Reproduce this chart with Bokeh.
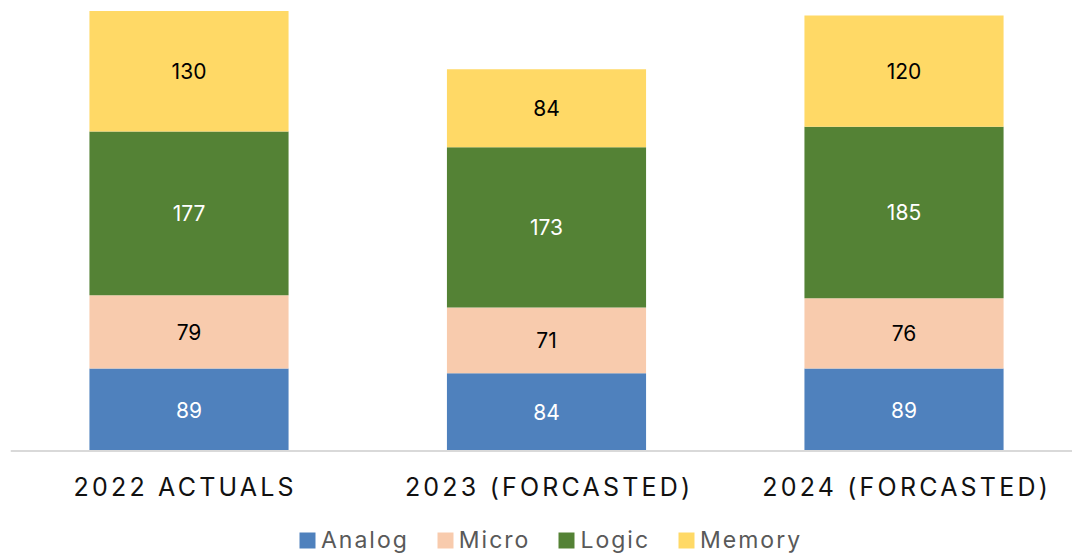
from bokeh.plotting import figure
from bokeh.models import (ColumnDataSource, Range1d, FixedTicker, Span, Legend,
                          LegendItem, InlineStyleSheet)
from bokeh.layouts import column
from bokeh.embed import file_html
from bokeh.resources import INLINE
from bokeh.core.properties import value

categories = ["2022 ACTUALS", "2023 (FORCASTED)", "2024 (FORCASTED)"]
series = ["Analog", "Micro", "Logic", "Memory"]
analog = [89, 84, 89]
micro = [79, 71, 76]
logic = [177, 173, 185]
memory = [130, 84, 120]
colors = ["#4F81BD", "#F8CBAD", "#548235", "#FFD966"]
label_colors = ["#FFFFFF", "#000000", "#FFFFFF", "#000000"]

FONT = "Inter"
W = 1072
x = list(range(len(categories)))
values = [analog, micro, logic, memory]
src = ColumnDataSource(dict(x=x, **{s: v for s, v in zip(series, values)}))

X0, X1 = -0.4993, 2.4713
xr = Range1d(X0, X1)

# ---------- main bars ----------
main = figure(width=W, height=453, x_range=xr, y_range=Range1d(-2.7, 486.3),
              output_backend="svg", toolbar_location=None,
              min_border_left=10, min_border_right=0, min_border_top=0, min_border_bottom=0,
              x_axis_location=None, y_axis_location=None)
main.outline_line_color = None
main.grid.visible = False
main.vbar_stack(series, x="x", width=0.557, color=colors, line_color=None, source=src)

lx, ly, lt, lc = [], [], [], []
bottoms = [0] * len(categories)
for vals, col in zip(values, label_colors):
    for i, v in enumerate(vals):
        lx.append(x[i])
        ly.append(bottoms[i] + v / 2)
        lt.append(str(v))
        lc.append(col)
        bottoms[i] += v
lsrc = ColumnDataSource(dict(x=lx, y=ly, text=lt, color=lc))
main.text(x="x", y="y", text="text", text_color="color", source=lsrc,
          text_align="center", text_baseline="middle",
          text_font=value(FONT), text_font_size="21px")
main.add_layout(Span(location=0, dimension="width", line_color="#D9D9D9", line_width=1.8))

# ---------- category axis ----------
shift = 23 / 357.5
ax = figure(width=W, height=68, x_range=Range1d(X0 + shift, X1 + shift), y_range=Range1d(0, 1),
            output_backend="svg", toolbar_location=None,
            min_border_left=10, min_border_right=0, min_border_top=0, min_border_bottom=67,
            y_axis_location=None)
ax.outline_line_color = None
ax.grid.visible = False
xa = ax.xaxis[0]
xa.ticker = FixedTicker(ticks=x)
xa.major_label_overrides = {i: c for i, c in zip(x, categories)}
xa.axis_line_color = None
xa.major_tick_line_color = None
xa.minor_tick_line_color = None
xa.major_label_text_font = FONT
xa.major_label_text_font_size = "25px"
xa.major_label_text_color = "#111111"
xa.major_label_standoff = 11
ax.stylesheets = [InlineStyleSheet(css=":host { letter-spacing: 3.2px; }")]

# ---------- legend ----------
lg = figure(width=W, height=37, x_range=Range1d(-1, 3), y_range=Range1d(0, 500),
            output_backend="svg", toolbar_location=None,
            min_border_left=10, min_border_right=0, min_border_top=0, min_border_bottom=0,
            x_axis_location=None, y_axis_location=None)
lg.outline_line_color = None
lg.grid.visible = False
rs = lg.vbar_stack(series, x="x", width=0.5, color=colors, line_color=None, source=src,
                   muted_alpha=0)
for r in rs:
    r.muted = True
legend = Legend(items=[LegendItem(label=s, renderers=[r]) for s, r in zip(series, rs)],
                orientation="horizontal", location=(287, 4.5),
                glyph_width=20, glyph_height=20, label_standoff=4, spacing=26,
                label_text_font=FONT, label_text_font_size="23px",
                label_text_color="#595959", background_fill_alpha=0,
                border_line_color=None, padding=0, margin=0)
lg.add_layout(legend, "center")
lg.stylesheets = [InlineStyleSheet(css=":host { letter-spacing: 2px; }")]

layout = column(main, ax, lg, spacing=0)
open("out.html", "w").write(file_html(layout, INLINE))
